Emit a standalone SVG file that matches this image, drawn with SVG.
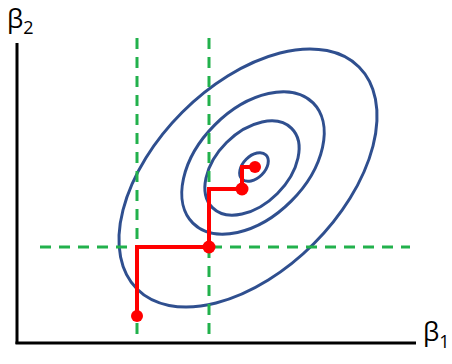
<svg xmlns="http://www.w3.org/2000/svg" width="452" height="364" viewBox="0 0 452 364">
<style>
.ax{stroke:#000;stroke-width:3;fill:none}
.ell{stroke:#2f4f8f;stroke-width:3;fill:none}
.grid{stroke:#22b14c;stroke-width:3;stroke-dasharray:11 8;fill:none}
.path{stroke:#ff0000;stroke-width:4;fill:none;stroke-linejoin:miter}
.dot{fill:#ff0000}
.lbl{font-family:"Open Sans","Liberation Sans",sans-serif;font-size:26px;fill:#000}
.sub{font-size:18px}
</style>
<rect width="452" height="364" fill="#fff"/>
<g id="axes">
<line class="ax" x1="17" y1="43" x2="17" y2="344"/>
<line class="ax" x1="15.5" y1="343" x2="416" y2="343"/>
<text class="lbl" x="7" y="28">β<tspan class="sub" dy="6">2</tspan></text>
<text class="lbl" x="423" y="341">β<tspan class="sub" dy="7">1</tspan></text>
</g>
<g id="contours">
<ellipse class="ell" cx="248" cy="178" rx="157" ry="93" transform="rotate(-45 248 178)"/>
<ellipse class="ell" cx="253" cy="163" rx="85" ry="54" transform="rotate(-45 253 163)"/>
<ellipse class="ell" cx="252" cy="168" rx="56" ry="36" transform="rotate(-45 252 168)"/>
<ellipse class="ell" cx="254" cy="167" rx="17" ry="11" transform="rotate(-45 254 167)"/>
</g>
<g id="grid">
<line class="grid" x1="137" y1="38" x2="137" y2="336"/>
<line class="grid" x1="209" y1="38" x2="209" y2="336"/>
<line class="grid" x1="40" y1="247" x2="410" y2="247"/>
</g>
<g id="connectors">
<polyline class="path" points="137,316 137,247 209,247 209,189 242,189 242,167 255,167"/>
</g>
<g id="p1"><circle class="dot" cx="137" cy="316" r="6"/></g>
<g id="p2"><circle class="dot" cx="209" cy="247" r="6.5"/></g>
<g id="p3"><circle class="dot" cx="242" cy="189" r="6.5"/></g>
<g id="p4"><circle class="dot" cx="255" cy="167" r="6"/></g>
</svg>
